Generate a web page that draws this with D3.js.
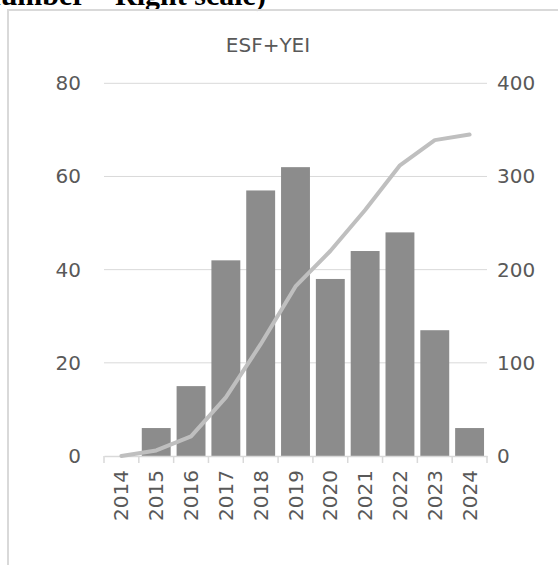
<!DOCTYPE html>
<html><head><meta charset="utf-8">
<script src="https://cdn.jsdelivr.net/npm/d3@7"></script>
<style>html,body{margin:0;padding:0;background:#fff;}svg{display:block;}</style>
</head><body>
<svg id="c" width="559" height="565"></svg>
<script>
const years = ["2014","2015","2016","2017","2018","2019","2020","2021","2022","2023","2024"];
const annual = [0,6,15,42,57,62,38,44,48,27,6];
const cumulative = [0,6,21,63,120,182,220,264,312,339,345];
const leftTicks = [0,20,40,60,80];
const rightTicks = [0,100,200,300,400];
const title = "ESF+YEI";
const caption = "(number – Right scale)";

const svg = d3.select("#c");
const font = "DejaVu Sans, Verdana, sans-serif";
const grey = "#595959";
const grid = "#d9d9d9";

// caption fragment cut off at top
svg.append("text").attr("x", -26).attr("y", 5)
  .attr("font-family","Liberation Serif, Times New Roman, serif")
  .attr("font-weight","bold").attr("font-size",30).attr("fill","#000")
  .text(caption);

// chart border
svg.append("path").attr("d","M8,575 L8,10 L558,10")
  .attr("fill","none").attr("stroke",grid).attr("stroke-width",2);

const x = d3.scaleBand().domain(years).range([104,487]).padding(0);
const yL = d3.scaleLinear().domain([0,80]).range([456,83.3]);
const yR = d3.scaleLinear().domain([0,400]).range([456,83.3]);

// gridlines
svg.append("g").selectAll("line").data(leftTicks.filter(d=>d>0)).join("line")
  .attr("x1",104).attr("x2",487).attr("y1",d=>yL(d)).attr("y2",d=>yL(d))
  .attr("stroke",grid).attr("stroke-width",1);

// left axis labels
const ax = svg.append("g").attr("transform","translate(81,0)")
  .call(d3.axisLeft(yL).tickValues(leftTicks).tickSize(0).tickPadding(0));
ax.select(".domain").remove();
ax.selectAll("text").attr("font-family",font).attr("font-size",20).attr("fill",grey);

// right axis labels
const ar = svg.append("g").attr("transform","translate(497,0)")
  .call(d3.axisRight(yR).tickValues(rightTicks).tickSize(0).tickPadding(0));
ar.select(".domain").remove();
ar.selectAll("text").attr("font-family",font).attr("font-size",20).attr("fill",grey);

// bars
const bw = x.bandwidth()*0.83;
svg.append("g").selectAll("rect").data(years.map((y,i)=>({y,v:annual[i]}))).join("rect")
  .attr("x",d=>x(d.y)+(x.bandwidth()-bw)/2).attr("width",bw)
  .attr("y",d=>yL(d.v)).attr("height",d=>yL(0)-yL(d.v))
  .attr("fill","#8c8c8c");

// x axis
const axB = svg.append("g").attr("transform","translate(0,456)")
  .call(d3.axisBottom(x).tickSize(0).tickPadding(0));
axB.select(".domain").attr("stroke",grid).attr("stroke-width",1.5);
axB.selectAll("text").remove();
svg.append("g").selectAll("line").data(years.concat(["end"])).join("line")
  .attr("x1",(d,i)=> i<years.length ? x(d) : x.range()[1])
  .attr("x2",(d,i)=> i<years.length ? x(d) : x.range()[1])
  .attr("y1",456).attr("y2",463).attr("stroke",grid).attr("stroke-width",1.5);
svg.append("g").selectAll("text").data(years).join("text")
  .attr("transform",d=>`translate(${x(d)+x.bandwidth()/2+7},470) rotate(-90)`)
  .attr("text-anchor","end").attr("font-family",font).attr("font-size",20).attr("fill",grey)
  .text(d=>d);

// cumulative line
const line = d3.line().x((d,i)=>x(years[i])+x.bandwidth()/2).y(d=>yR(d));
svg.append("path").datum(cumulative).attr("d",line)
  .attr("fill","none").attr("stroke","#bfbfbf").attr("stroke-width",4)
  .attr("stroke-linecap","round").attr("stroke-linejoin","round");

// title
svg.append("text").attr("x",268).attr("y",52).attr("text-anchor","middle")
  .attr("font-family",font).attr("font-size",20).attr("fill",grey).text(title);
</script>
</body></html>
